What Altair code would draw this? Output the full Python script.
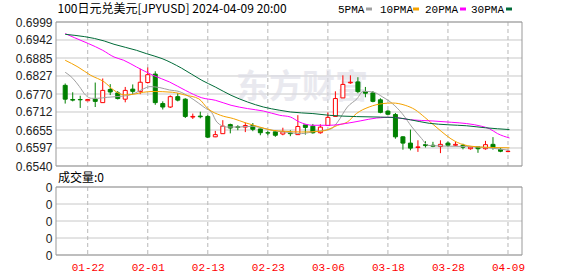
import altair as alt
import pandas as pd

# ---------------- data ----------------
dates = [
    "01-17", "01-18", "01-19", "01-22", "01-23", "01-24", "01-25", "01-26", "01-29", "01-30", "01-31",
    "02-01", "02-02", "02-05", "02-06", "02-07", "02-08", "02-09", "02-12", "02-13", "02-14", "02-15",
    "02-16", "02-19", "02-20", "02-21", "02-22", "02-23", "02-26", "02-27", "02-28", "02-29",
    "03-01", "03-04", "03-05", "03-06", "03-07", "03-08", "03-11", "03-12", "03-13", "03-14", "03-15",
    "03-18", "03-19", "03-20", "03-21", "03-22", "03-25", "03-26", "03-27", "03-28", "03-29",
    "04-01", "04-02", "04-03", "04-04", "04-05", "04-08", "04-09",
]
opens = [0.6797, 0.6752, 0.6752, 0.6748, 0.6753, 0.6742, 0.6784, 0.6773, 0.6753, 0.6785,
         0.6777, 0.6806, 0.6833, 0.6739, 0.6728, 0.6761, 0.6753, 0.6696, 0.6699, 0.6698,
         0.6633, 0.6643, 0.6672, 0.6665, 0.6664, 0.6669, 0.6658, 0.6646, 0.6649, 0.6642,
         0.6645, 0.6640, 0.6671, 0.6667, 0.6646, 0.6669, 0.6698, 0.6757, 0.6805, 0.6808,
         0.6777, 0.6773, 0.6751, 0.6715, 0.6704, 0.6633, 0.6613, 0.6599, 0.6608, 0.6606,
         0.6602, 0.6613, 0.6606, 0.6606, 0.6595, 0.6601, 0.6595, 0.6609, 0.6593, 0.6586]
closes = [0.6753, 0.6750, 0.6751, 0.6752, 0.6746, 0.6781, 0.6776, 0.6755, 0.6781, 0.6778,
          0.6807, 0.6831, 0.6742, 0.6728, 0.6761, 0.6750, 0.6698, 0.6698, 0.6697, 0.6632,
          0.6640, 0.6667, 0.6661, 0.6663, 0.6669, 0.6657, 0.6646, 0.6645, 0.6638, 0.6649,
          0.6643, 0.6666, 0.6663, 0.6646, 0.6664, 0.6695, 0.6755, 0.6800, 0.6807, 0.6777,
          0.6772, 0.6746, 0.6711, 0.6705, 0.6633, 0.6613, 0.6597, 0.6601, 0.6605, 0.6603,
          0.6609, 0.6606, 0.6609, 0.6600, 0.6600, 0.6595, 0.6608, 0.6599, 0.6587, 0.6587]
highs = [0.6803, 0.6775, 0.6764, 0.6754, 0.6806, 0.6819, 0.6801, 0.6779, 0.6792, 0.6800,
         0.6850, 0.6854, 0.6842, 0.6746, 0.6765, 0.6772, 0.6756, 0.6707, 0.6713, 0.6702,
         0.6652, 0.6686, 0.6675, 0.6670, 0.6678, 0.6677, 0.6659, 0.6652, 0.6654, 0.6662,
         0.6654, 0.6702, 0.6671, 0.6674, 0.6673, 0.6711, 0.6778, 0.6829, 0.6829, 0.6823,
         0.6792, 0.6779, 0.6756, 0.6718, 0.6709, 0.6635, 0.6656, 0.6622, 0.6619, 0.6617,
         0.6622, 0.6618, 0.6617, 0.6611, 0.6601, 0.6601, 0.6620, 0.6632, 0.6597, 0.6590]
lows = [0.6739, 0.6746, 0.6725, 0.6747, 0.6728, 0.6742, 0.6766, 0.6752, 0.6743, 0.6769,
        0.6769, 0.6803, 0.6735, 0.6720, 0.6725, 0.6746, 0.6693, 0.6690, 0.6692, 0.6629,
        0.6632, 0.6643, 0.6644, 0.6654, 0.6648, 0.6651, 0.6638, 0.6638, 0.6633, 0.6638,
        0.6635, 0.6640, 0.6640, 0.6643, 0.6643, 0.6668, 0.6698, 0.6757, 0.6802, 0.6772,
        0.6759, 0.6743, 0.6708, 0.6703, 0.6627, 0.6592, 0.6590, 0.6585, 0.6599, 0.6600,
        0.6581, 0.6600, 0.6603, 0.6593, 0.6592, 0.6582, 0.6592, 0.6592, 0.6584, 0.6584]
volumes = [0] * 60

# moving averages (position in candles, value)
ma5_pos = [0, 1, 1.9, 2.7, 3.5, 4.3, 5.6, 6.9, 8.6, 9.4, 10.4, 11.3, 12.6, 13.9, 15.2, 16.5, 17.8,
           18.7, 19.5, 20.2, 21.5, 23.2, 24.9, 26.6, 28.3, 29.2, 31.5, 33.3, 34.6, 35.5, 36.3,
           37.6, 38.9, 39.7, 41, 42.3, 43.6, 44.9, 46.2, 47.5, 48.3, 49.2, 52, 55, 57, 59.2]
ma5_val = [0.68387, 0.68196, 0.67931, 0.67663, 0.67558, 0.67558, 0.67590, 0.67612, 0.67663,
           0.67734, 0.67855, 0.67931, 0.67899, 0.67823, 0.67772, 0.67612, 0.67399, 0.67240,
           0.67112, 0.66803, 0.66643, 0.66643, 0.66666, 0.66592, 0.66506, 0.66484, 0.66433,
           0.66506, 0.66538, 0.66592, 0.66803, 0.67281, 0.67549, 0.67781, 0.67759, 0.67600,
           0.67389, 0.67071, 0.66643, 0.66274, 0.66060, 0.66044, 0.66028, 0.66006, 0.65965,
           0.65901]
ma10_pos = [0, 1.7, 3.4, 5.2, 6.5, 7.8, 9.1, 10.4, 11.7, 14.3, 16, 17.8, 19, 20.7, 22.4, 24.1,
            25.9, 27.6, 29.3, 31.5, 34.1, 35, 36.3, 37.6, 38.8, 40.5, 42.3, 43.6, 45.3, 46.6,
            47.9, 49, 50.1, 51.4, 53.1, 55.3, 59.2]
ma10_val = [0.68770, 0.68556, 0.68291, 0.68078, 0.67813, 0.67670, 0.67686, 0.67750, 0.67775,
            0.67750, 0.67660, 0.67542, 0.67230, 0.67016, 0.66911, 0.66771, 0.66643, 0.66538,
            0.66506, 0.66484, 0.66506, 0.66561, 0.66698, 0.66803, 0.67071, 0.67281, 0.67389,
            0.67408, 0.67335, 0.67198, 0.66953, 0.66729, 0.66506, 0.66267, 0.66076, 0.66006,
            0.65980]
ma20_pos = [0, 1.2, 3.1, 5, 6.5, 7.8, 9.5, 11.7, 13.9, 16, 18.2, 20, 22.1, 24.3, 26.4, 28.6,
            30, 31.2, 33, 35.2, 37.3, 39.4, 41.5, 43.5, 46, 49, 51.5, 53.5, 55.5, 56.5, 57.6,
            59.2]
ma20_val = [0.69621, 0.69493, 0.69302, 0.69088, 0.68875, 0.68770, 0.68556, 0.68291, 0.68078,
            0.67813, 0.67574, 0.67495, 0.67335, 0.67230, 0.67153, 0.67016, 0.66962, 0.66803,
            0.66698, 0.66698, 0.66752, 0.66841, 0.66930, 0.66953, 0.66873, 0.66835, 0.66793,
            0.66752, 0.66666, 0.66592, 0.66433, 0.66293]
ma30_pos = [0, 5.2, 6.5, 9.5, 10.8, 12.9, 15.5, 18.2, 20, 22.1, 24.3, 26.4, 28.6, 30, 33,
            35.2, 38.8, 42, 44, 46, 48.5, 51, 53.5, 56, 59.2]
ma30_val = [0.69598, 0.69385, 0.69280, 0.69088, 0.68983, 0.68824, 0.68520, 0.68132, 0.67918,
            0.67654, 0.67440, 0.67281, 0.67176, 0.67122, 0.67071, 0.67016, 0.66975, 0.66959,
            0.66943, 0.66873, 0.66761, 0.66714, 0.66682, 0.66618, 0.66561]

ma_names = ["5PMA", "10PMA", "20PMA", "30PMA"]
ma_colors = ["#a0a0a0", "#f5a200", "#ff00ff", "#006b38"]

y_tick_values = [0.6540, 0.659738, 0.665475, 0.671213, 0.67695, 0.682688, 0.688425, 0.694163, 0.6999]
y_tick_labels = ["0.6540", "0.6597", "0.6655", "0.6712", "0.6770", "0.6827", "0.6885", "0.6942", "0.6999"]
x_tick_pos = [3, 11, 19, 27, 35, 43, 51, 59]
x_tick_labels = ["01-22", "02-01", "02-13", "02-23", "03-06", "03-18", "03-28", "04-09"]
vol_ticks = [0, 1, 2, 3, 4]

title_text = "100日元兑美元[JPYUSD] 2024-04-09 20:00"
vol_text = "成交量:0"
watermark = "东方财富"

# ---------------- tables ----------------
df = pd.DataFrame({
    "i": list(range(len(dates))), "date": dates,
    "open": opens, "close": closes, "high": highs, "low": lows, "vol": volumes,
})
ma_rows = []
for name, pos, val in [("5PMA", ma5_pos, ma5_val), ("10PMA", ma10_pos, ma10_val),
                       ("20PMA", ma20_pos, ma20_val), ("30PMA", ma30_pos, ma30_val)]:
    for p, v in zip(pos, val):
        ma_rows.append({"ma": name, "i": p, "v": v})
ma_df = pd.DataFrame(ma_rows)
one = pd.DataFrame({"t": [title_text]})
ytick_df = pd.DataFrame({"y": y_tick_values})
xtick_df = pd.DataFrame({"x": x_tick_pos})
vtick_df = pd.DataFrame({"y": vol_ticks})

RED = "#ff0000"
GREEN = "#008000"
GRID = "#c8c8c8"
VGRID = "#b8b8b8"
BORDER = "#999999"
W = 466
H_MAIN = 144
H_VOL = 68

x_scale = alt.Scale(domain=[-0.56, 60.2], nice=False, zero=False)
y_scale = alt.Scale(domain=[0.6540, 0.6999], nice=False, zero=False)
v_scale = alt.Scale(domain=[0, 4], nice=False, zero=False)

x_label_js = "[" + ",".join("'" + s + "'" for s in x_tick_labels) + "]"
y_label_js = "[" + ",".join("'" + s + "'" for s in y_tick_labels) + "]"

x_axis_main = alt.Axis(values=x_tick_pos, labels=False, ticks=False, domain=False, grid=False,
                       title=None)
y_axis_main = alt.Axis(values=y_tick_values,
                       labelExpr=y_label_js + "[round((datum.value-0.654)/0.0057375)]",
                       ticks=False, domain=False, grid=False,
                       labelFont="Liberation Sans", labelFontSize=12,
                       labelColor="#222222", labelPadding=4, labelOverlap=False,
                       labelFlush=False, labelBound=False, title=None)

base = alt.Chart(df)
up = alt.datum.close >= alt.datum.open

# invisible anchor placing the plot origin at (55.5, 21.5) for crisp 1px lines
anchor = alt.Chart(pd.DataFrame({"t": [""]})).mark_rect(opacity=0).encode(
    x=alt.value(-55.5), x2=alt.value(-54.5), y=alt.value(-21.5), y2=alt.value(-20.5)
)


def grid_layers(yscale, ydf, height, yaxis):
    h = alt.Chart(ydf).mark_rule(color=GRID, strokeWidth=1).encode(
        y=alt.Y("y:Q", scale=yscale, axis=yaxis), x=alt.value(0), x2=alt.value(W)
    )
    v = alt.Chart(xtick_df).mark_rule(color=VGRID, strokeWidth=1, strokeDash=[4, 3]).encode(
        x=alt.X("x:Q", scale=x_scale), y=alt.value(0), y2=alt.value(height)
    )
    frame = alt.Chart(pd.DataFrame({"t": [""]})).mark_rect(
        fill="#ffffff", fillOpacity=0, stroke=BORDER, strokeWidth=1
    ).encode(x=alt.value(0), x2=alt.value(W), y=alt.value(0), y2=alt.value(height))
    return h, v, frame


gh, gv, frame = grid_layers(y_scale, ytick_df, H_MAIN, y_axis_main)

wm = alt.Chart(pd.DataFrame({"t": [watermark]})).mark_text(
    align="left", baseline="middle", font="Noto Sans CJK SC", fontSize=33, fontWeight="bold",
    color="#dcdce6", opacity=0.6
).encode(text="t:N", x=alt.value(180), y=alt.value(66))

wicks = base.mark_rule(strokeWidth=1).encode(
    x=alt.X("i:Q", scale=x_scale, axis=x_axis_main),
    y=alt.Y("low:Q", scale=y_scale, axis=y_axis_main),
    y2="high:Q",
    color=alt.condition(up, alt.value(RED), alt.value(GREEN)),
)
bodies = base.mark_bar(size=4, strokeWidth=1).encode(
    x=alt.X("i:Q", scale=x_scale, axis=x_axis_main),
    y=alt.Y("open:Q", scale=y_scale, axis=y_axis_main),
    y2="close:Q",
    fill=alt.condition(up, alt.value("#ffffff"), alt.value(GREEN)),
    stroke=alt.condition(up, alt.value(RED), alt.value(GREEN)),
)
lines = alt.Chart(ma_df).mark_line(strokeWidth=1, interpolate="monotone").encode(
    x=alt.X("i:Q", scale=x_scale, axis=x_axis_main),
    y=alt.Y("v:Q", scale=y_scale, axis=y_axis_main),
    color=alt.Color("ma:N", scale=alt.Scale(domain=ma_names, range=ma_colors), legend=None),
    detail="ma:N",
)

title_mark = alt.Chart(one).mark_text(
    align="left", baseline="alphabetic", font="Noto Sans CJK SC", fontSize=12, color="#000000"
).encode(text="t:N", x=alt.value(1.5), y=alt.value(-9))

legend_layers = []
leg_text_x = [282, 324, 369, 415]
leg_box_x = [310, 357, 404, 450]
for name, col, tx, bx in zip(ma_names, ma_colors, leg_text_x, leg_box_x):
    legend_layers.append(
        alt.Chart(pd.DataFrame({"t": [name]})).mark_text(
            align="left", baseline="alphabetic", font="Liberation Mono", fontSize=11,
            color="#000000"
        ).encode(text="t:N", x=alt.value(tx), y=alt.value(-9))
    )
    legend_layers.append(
        alt.Chart(pd.DataFrame({"t": [name]})).mark_rect(color=col).encode(
            x=alt.value(bx), x2=alt.value(bx + 6), y=alt.value(-14.5), y2=alt.value(-11.5)
        )
    )

main = alt.layer(anchor, gh, gv, frame, wm, wicks, bodies, lines, title_mark,
                 *legend_layers).properties(width=W, height=H_MAIN)

x_axis_vol = alt.Axis(values=x_tick_pos, labelExpr=x_label_js + "[round((datum.value-3)/8)]",
                      ticks=False, domain=False, grid=False,
                      labelColor=RED, labelFont="Liberation Mono",
                      labelFontSize=11, labelPadding=6, labelBaseline="top",
                      labelOverlap=False, labelFlush=False, title=None)
y_axis_vol = alt.Axis(values=vol_ticks, labelExpr="'0'", ticks=False, domain=False, grid=False,
                      labelFont="Liberation Sans", labelFontSize=12,
                      labelColor="#222222", labelPadding=4, labelOverlap=False,
                      labelFlush=False, title=None)

vgh, vgv, vframe = grid_layers(v_scale, vtick_df, H_VOL, y_axis_vol)

vol_bars = base.mark_bar(size=4, color=RED).encode(
    x=alt.X("i:Q", scale=x_scale, axis=x_axis_vol),
    y=alt.Y("vol:Q", scale=v_scale, axis=y_axis_vol),
)
vol_label = alt.Chart(pd.DataFrame({"t": [vol_text]})).mark_text(
    align="left", baseline="alphabetic", font="Noto Sans CJK SC", fontSize=12, color="#000000"
).encode(text="t:N", x=alt.value(2), y=alt.value(-5))

vol = alt.layer(vgh, vgv, vframe, vol_bars, vol_label).properties(width=W, height=H_VOL)

chart = alt.vconcat(main, vol, spacing=21, bounds="flush").properties(
    padding={"left": 0, "top": 0, "right": 5, "bottom": 2},
    background="#ffffff",
).configure_view(stroke=None).configure_axis(labelOverlap=False)

chart.save("out.html", embed_options={"renderer": "svg", "actions": False})
